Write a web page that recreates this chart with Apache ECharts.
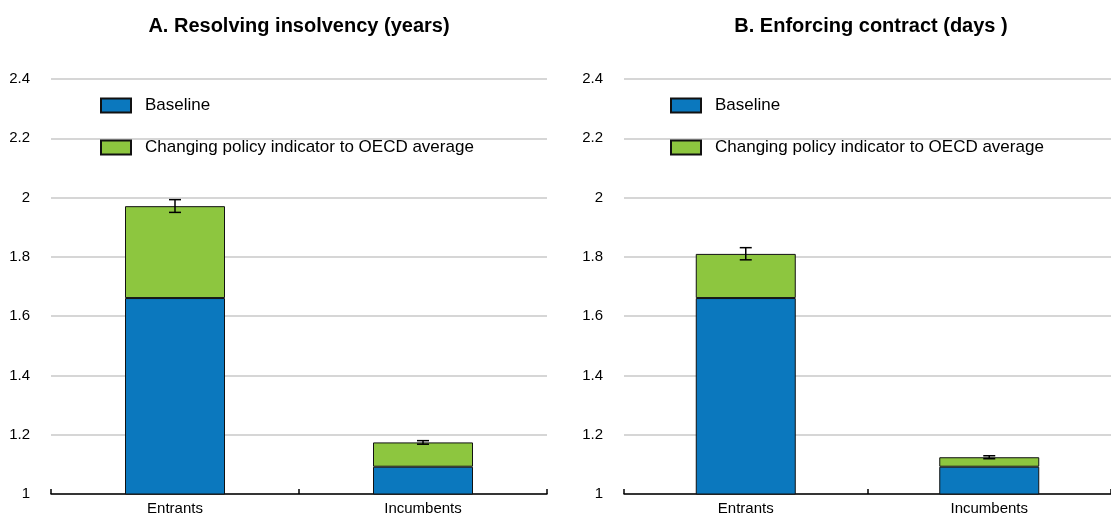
<!DOCTYPE html>
<html>
<head>
<meta charset="utf-8">
<script src="https://cdn.jsdelivr.net/npm/echarts@6/dist/echarts.min.js"></script>
<style>
  html, body { margin: 0; padding: 0; background: #fff; }
  #chart { width: 1111px; height: 519px; }
</style>
</head>
<body>
<div id="chart"></div>
<script>
// categories and values
var categories = ['Entrants', 'Incumbents'];
var seriesNames = ['Baseline', 'Changing policy indicator to OECD average'];
var panelTitles = ['A. Resolving insolvency (years)', 'B. Enforcing contract (days )'];

// A. resolving insolvency
var insolvBaseline = [1.661, 1.092];
var insolvPolicy = [1.971, 1.174];
var insolvErrLow = [1.950, 1.168];
var insolvErrHigh = [1.993, 1.180];

// B. enforcing contract
var contractBaseline = [1.661, 1.092];
var contractPolicy = [1.810, 1.124];
var contractErrLow = [1.790, 1.119];
var contractErrHigh = [1.831, 1.129];

var yMin = 1, yMax = 2.4, yStep = 0.2;

var blue = '#0B78BE';
var green = '#8DC63F';
var font = 'Liberation Sans, Arial, sans-serif';

var myChart = echarts.init(document.getElementById('chart'));

// panel positions
var grids = [
    { left: 51, right: 564, top: 79, bottom: 25 },
    { left: 624, right: -10, top: 79, bottom: 25 }
];

function diff(a, b) {
    return a.map(function (v, i) { return +(v - b[i]).toFixed(3); });
}

function errSeries(idx, low, high) {
    return {
        type: 'custom',
        xAxisIndex: idx,
        yAxisIndex: idx,
        z: 10,
        silent: true,
        data: low.map(function (v, i) { return [i, v, high[i]]; }),
        renderItem: function (params, api) {
            var lo = api.coord([api.value(0), api.value(1)]);
            var hi = api.coord([api.value(0), api.value(2)]);
            var w = 6;
            var st = { stroke: '#000', lineWidth: 1.5 };
            return {
                type: 'group',
                children: [
                    { type: 'line', shape: { x1: lo[0], y1: lo[1], x2: hi[0], y2: hi[1] }, style: st },
                    { type: 'line', shape: { x1: lo[0] - w, y1: lo[1], x2: lo[0] + w, y2: lo[1] }, style: st },
                    { type: 'line', shape: { x1: hi[0] - w, y1: hi[1], x2: hi[0] + w, y2: hi[1] }, style: st }
                ]
            };
        }
    };
}

var panels = [
    [insolvBaseline, insolvPolicy, insolvErrLow, insolvErrHigh],
    [contractBaseline, contractPolicy, contractErrLow, contractErrHigh]
];

var series = [];
panels.forEach(function (p, idx) {
    series.push({
        name: seriesNames[0],
        type: 'bar',
        stack: 's' + idx,
        xAxisIndex: idx,
        yAxisIndex: idx,
        barWidth: 100,
        itemStyle: { color: blue, borderColor: '#111', borderWidth: 1 },
        data: p[0]
    });
    series.push({
        name: seriesNames[1],
        type: 'bar',
        stack: 's' + idx,
        xAxisIndex: idx,
        yAxisIndex: idx,
        barWidth: 100,
        itemStyle: { color: green, borderColor: '#111', borderWidth: 1 },
        data: diff(p[1], p[0])
    });
    series.push(errSeries(idx, p[2], p[3]));
});

var option = {
    animation: false,
    backgroundColor: '#fff',
    title: panelTitles.map(function (t, i) {
        return {
            text: t,
            left: [299, 871][i],
            top: 16,
            padding: 0,
            textAlign: 'center',
            textStyle: { fontFamily: font, fontWeight: 'bold', fontSize: 20, color: '#000' }
        };
    }),
    legend: [100, 670].map(function (x) {
        return {
            left: x,
            top: 97,
            padding: 0,
            orient: 'vertical',
            icon: 'rect',
            itemWidth: 30,
            itemHeight: 14,
            itemGap: 25,
            selectedMode: false,
            data: seriesNames,
            textStyle: { fontFamily: font, fontSize: 17, color: '#000', lineHeight: 14, padding: [0, 0, 0, 9] }
        };
    }),
    grid: grids,
    xAxis: grids.map(function (g, i) {
        return {
            type: 'category',
            gridIndex: i,
            data: categories,
            axisLine: { lineStyle: { color: '#000', width: 1.5 } },
            axisTick: { show: true, inside: true, length: 5, lineStyle: { color: '#000', width: 1.5 } },
            axisLabel: { fontFamily: font, fontSize: 15, color: '#000', margin: 7 }
        };
    }),
    yAxis: grids.map(function (g, i) {
        return {
            type: 'value',
            gridIndex: i,
            min: yMin,
            max: yMax,
            interval: yStep,
            axisLine: { show: false },
            axisTick: { show: false },
            splitLine: { lineStyle: { color: '#c8c8c8', width: 1.5 } },
            axisLabel: { fontFamily: font, fontSize: 15, color: '#000', margin: 21 }
        };
    }),
    series: series
};

myChart.setOption(option);
</script>
</body>
</html>
